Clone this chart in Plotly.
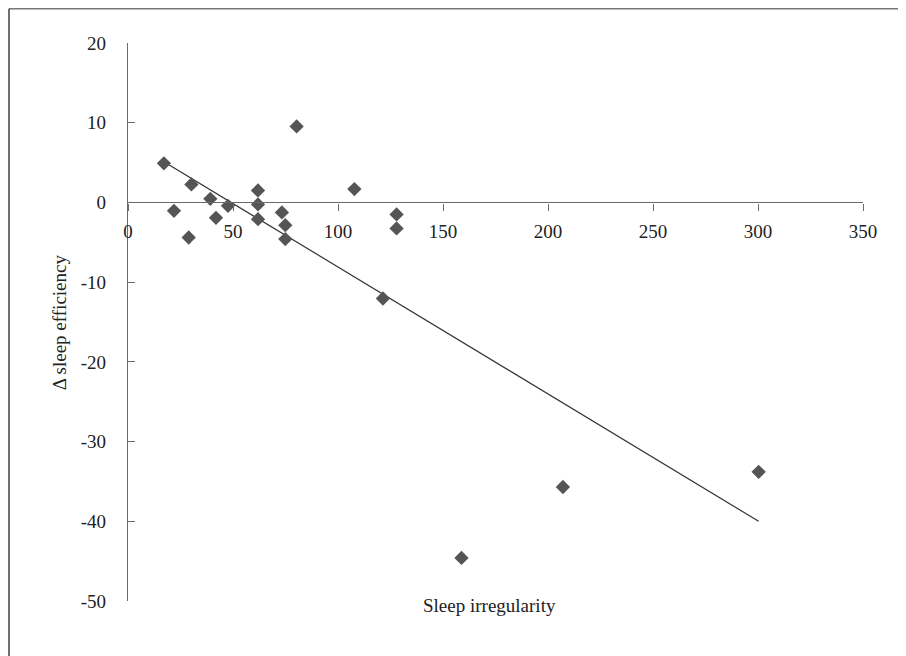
import plotly.graph_objects as go

# Data
irregularity = [17.1, 21.9, 30.2, 28.9, 39.2, 41.9, 47.6, 61.9, 61.9, 61.9,
                73.3, 74.9, 74.9, 80.3, 107.8, 121.4, 127.9, 127.9, 158.8, 207.1, 300.3]
delta_eff = [4.9, -1.05, 2.26, -4.4, 0.45, -1.93, -0.43, 1.5, -0.25, -2.1,
             -1.26, -2.85, -4.6, 9.54, 1.67, -12.05, -1.5, -3.26, -44.6, -35.7, -33.8]
trend_x = [17.1, 300.3]
trend_y = [5.1, -40.0]

x_ticks = [0, 50, 100, 150, 200, 250, 300, 350]
y_ticks = [20, 10, 0, -10, -20, -30, -40, -50]

# page has an 8px body margin; figure is sized/offset to compensate
OFF = 8
W, H = 906 - OFF, 656 - OFF
L, T = 128.3 - OFF, 43 - OFF
R = W - (863.3 - OFF)
B = H - (600.7 - OFF)
pw, ph = W - L - R, H - T - B

def px_x(p):
    return (p - OFF - L) / pw

def px_y(p):
    return (H - B - (p - OFF)) / ph

FONT = "Liberation Serif"
TXT = "#222222"
AX = "#6a6a6a"

fig = go.Figure()
fig.add_trace(go.Scatter(
    x=trend_x, y=trend_y, mode="lines",
    line=dict(color="#333333", width=1.2), showlegend=False, hoverinfo="skip"))
fig.add_trace(go.Scatter(
    x=irregularity, y=delta_eff, mode="markers",
    marker=dict(symbol="diamond", size=11, color="#555555", line=dict(width=0)),
    showlegend=False, cliponaxis=False))

y_min, y_max = -50, 20
fig.update_layout(
    width=W, height=H,
    margin=dict(l=L, r=R, t=T, b=B, pad=0),
    paper_bgcolor="white", plot_bgcolor="white",
    font=dict(family=FONT, size=19, color=TXT),
    xaxis=dict(
        range=[0, 350], tickvals=x_ticks, ticktext=[str(v) for v in x_ticks],
        showgrid=False, zeroline=False, showline=True, linecolor=AX, linewidth=1.3,
        ticks="outside", ticklen=7, tickcolor=AX, tickwidth=1.3,
        anchor="free", position=(0 - y_min) / (y_max - y_min),
        ticklabelstandoff=5,
        tickfont=dict(family=FONT, size=19, color=TXT)),
    yaxis=dict(
        range=[y_min, y_max], tickvals=y_ticks, ticktext=[str(v) for v in y_ticks],
        showgrid=False, zeroline=False, showline=True, linecolor=AX, linewidth=1.3,
        ticks="inside", ticklen=7, tickcolor=AX, tickwidth=1.3,
        ticklabelstandoff=17,
        tickfont=dict(family=FONT, size=19, color=TXT)),
    annotations=[
        dict(text="Sleep irregularity", xref="paper", yref="paper",
             x=px_x(490), y=px_y(618), showarrow=False,
             font=dict(family=FONT, size=19, color=TXT)),
        dict(text="Δ sleep efficiency", xref="paper", yref="paper",
             x=px_x(47), y=px_y(322), showarrow=False, textangle=-90,
             font=dict(family=FONT, size=19, color=TXT)),
    ],
    shapes=[
        dict(type="line", xref="paper", yref="paper",
             x0=px_x(9.3), x1=px_x(906 + 5), y0=px_y(OFF + 0.75), y1=px_y(OFF + 0.75),
             line=dict(color="#777777", width=1.5)),
        dict(type="line", xref="paper", yref="paper",
             x0=px_x(9.3), x1=px_x(9.3), y0=px_y(OFF + 0.75), y1=px_y(656 + 5),
             line=dict(color="#222222", width=1.3)),
    ],
)

fig.write_html("out.html")
